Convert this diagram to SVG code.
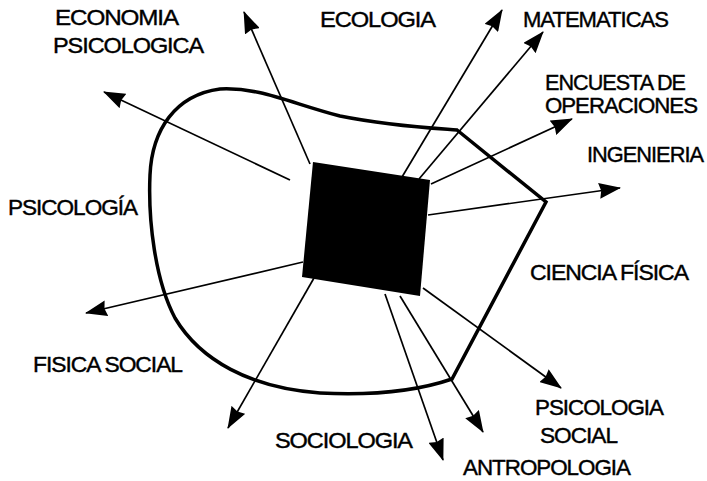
<svg xmlns="http://www.w3.org/2000/svg" width="707" height="481" viewBox="0 0 707 481">
<style>
.lbl{font-family:"Liberation Sans",Arial,sans-serif;font-size:22px;fill:#000;stroke:#000;stroke-width:0.4;letter-spacing:-1px}
.arr{stroke:#000;stroke-width:1.7;fill:none;marker-end:url(#ah)}
</style>
<defs>
<marker id="ah" markerUnits="userSpaceOnUse" markerWidth="22" markerHeight="16" refX="21" refY="8" orient="auto" viewBox="0 0 22 16">
<path d="M0,0 L22,8 L0,16 L2,8 Z" fill="#000"/>
</marker>
</defs>
<rect width="707" height="481" fill="#fff"/>
<g id="region">
<path d="M457,130 L546,202 L452,379 C420,390 380,396 320,393 C250,388 200,360 175,318 C155,280 148,220 150,175 C152,130 175,95 220,89 C260,87 290,103 340,116 C390,126 430,128 457,130 Z" fill="none" stroke="#000" stroke-width="3.5" stroke-linejoin="miter"/>
</g>
<g id="connectors">
<line class="arr" x1="310" y1="164" x2="244" y2="12"/>
<line class="arr" x1="402" y1="177" x2="502" y2="10"/>
<line class="arr" x1="419" y1="179" x2="543" y2="32"/>
<line class="arr" x1="431" y1="184" x2="572" y2="119"/>
<line class="arr" x1="428" y1="215" x2="620" y2="188"/>
<line class="arr" x1="423" y1="288" x2="561" y2="388"/>
<line class="arr" x1="400" y1="296" x2="483" y2="432"/>
<line class="arr" x1="385" y1="294" x2="443" y2="460"/>
<line class="arr" x1="314" y1="278" x2="228" y2="428"/>
<line class="arr" x1="303" y1="262" x2="86" y2="313"/>
<line class="arr" x1="290" y1="180" x2="104" y2="92"/>
</g>
<g id="center">
<polygon points="313,162 430,180 420,296 302,277" fill="#000"/>
</g>
<g id="labels">
<text class="lbl" x="55" y="25" textLength="123" lengthAdjust="spacingAndGlyphs">ECONOMIA</text>
<text class="lbl" x="53" y="53" textLength="150" lengthAdjust="spacingAndGlyphs">PSICOLOGICA</text>
<text class="lbl" x="320" y="27" textLength="115" lengthAdjust="spacingAndGlyphs">ECOLOGIA</text>
<text class="lbl" x="523" y="27" textLength="145" lengthAdjust="spacingAndGlyphs">MATEMATICAS</text>
<text class="lbl" x="545" y="90" textLength="140" lengthAdjust="spacingAndGlyphs">ENCUESTA DE</text>
<text class="lbl" x="545" y="113" textLength="152" lengthAdjust="spacingAndGlyphs">OPERACIONES</text>
<text class="lbl" x="587" y="162" textLength="116" lengthAdjust="spacingAndGlyphs">INGENIERIA</text>
<text class="lbl" x="530" y="280" textLength="158" lengthAdjust="spacingAndGlyphs">CIENCIA FÍSICA</text>
<text class="lbl" x="535" y="415" textLength="128" lengthAdjust="spacingAndGlyphs">PSICOLOGIA</text>
<text class="lbl" x="540" y="443" textLength="77" lengthAdjust="spacingAndGlyphs">SOCIAL</text>
<text class="lbl" x="463" y="475" textLength="167" lengthAdjust="spacingAndGlyphs">ANTROPOLOGIA</text>
<text class="lbl" x="275" y="448" textLength="137" lengthAdjust="spacingAndGlyphs">SOCIOLOGIA</text>
<text class="lbl" x="33" y="372" textLength="149" lengthAdjust="spacingAndGlyphs">FISICA SOCIAL</text>
<text class="lbl" x="8" y="215" textLength="129" lengthAdjust="spacingAndGlyphs">PSICOLOGÍA</text>
</g>
</svg>
